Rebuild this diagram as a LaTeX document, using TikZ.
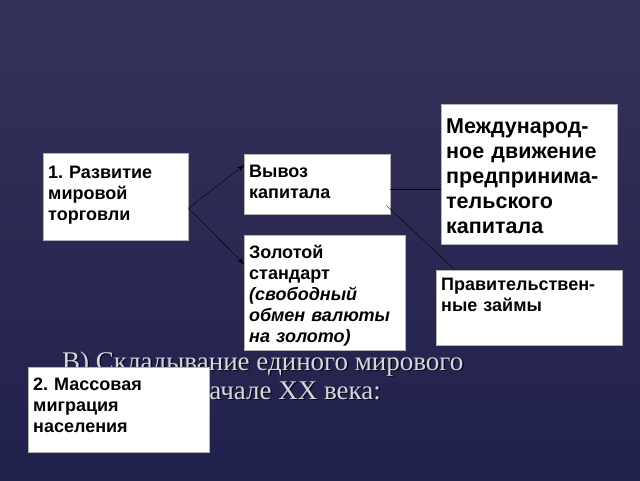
\documentclass[tikz,border=0pt]{standalone}
\usepackage{fontspec}
\setmainfont{Liberation Serif}
\newfontfamily\boxfont{Liberation Sans}
\usetikzlibrary{arrows.meta,positioning}
\frenchspacing
\definecolor{slidetop}{RGB}{53,50,88}
\definecolor{slidebottom}{RGB}{33,33,78}
\definecolor{titlegray}{RGB}{214,214,222}
\tikzstyle{arrow} = [-{Stealth[length=7pt, width=5pt]}, thin]
\tikzstyle{link} = [-, thin]
\tikzstyle{block} = [rectangle, draw=gray!60, fill=white, anchor=north west,
align=left, inner xsep=5pt, inner ysep=5pt, font=\boxfont\bfseries\fontsize{18}{21}\selectfont]
\tikzstyle{blockbig} = [block, font=\boxfont\bfseries\fontsize{21.5}{25}\selectfont]
\tikzstyle{heading} = [inner sep=0pt, text=titlegray, font=\fontsize{27}{30}\selectfont]
\tikzstyle{headingshadow} = [heading, text=black, opacity=0.7]

\begin{document}
\begin{tikzpicture}[x=1pt, y=-1pt]
				% Slide background
				\shade[top color=slidetop, bottom color=slidebottom] (0,0) rectangle (640,480);
				\useasboundingbox (0,0) rectangle (640,480);
				
				% Heading behind the boxes
				\node (headashadow) [headingshadow, anchor=base west] at (63.5,371.5) {В) Складывание единого мирового};
				\node (headbshadow) [headingshadow, anchor=base east] at (382.5,400.5) {начале XX века:};
				\node (heada) [heading, anchor=base west] at (62,370) {В) Складывание единого мирового};
				\node (headb) [heading, anchor=base east] at (381,399) {начале XX века:};
				
				% Place nodes
				\node (trade) [block, text width=135pt, text height=20pt, text depth=57pt] at (43,153) {1. Развитие\\мировой\\торговли};
				\node (export) [block, text width=136pt, text height=18pt, text depth=32pt] at (244,154) {Вывоз\\капитала};
				\node (gold) [block, below=21pt of export.south west, anchor=north west, text width=151pt, text height=18pt, text depth=87pt] {Золотой\\стандарт\\\textit{(свободный\\обмен валюты\\на золото)}};
				\node (movement) [blockbig, text width=166pt, text height=24pt, text depth=106pt] at (441,104) {Международ-\\ное движение\\предпринима-\\тельского\\капитала};
				\node (loans) [block, text width=176pt, text height=15pt, text depth=50pt] at (436,270) {Правительствен-\\ные займы};
				\node (migration) [block, text width=171pt, text height=18pt, text depth=57pt] at (28,367) {2. Массовая\\миграция\\населения};
				
				% Connectors
				\draw[arrow] (trade.-9) -- ([yshift=19pt]export.west);
				\draw[arrow] (trade.-9) -- ([yshift=29pt]gold.west);
				\draw[link] ([yshift=-5pt]export.east) -- ([yshift=-15pt]movement.west);
				\draw[link] ([xshift=-4pt,yshift=9pt]export.south east) -- ([xshift=19pt]loans.north west);
			\end{tikzpicture}
\end{document}
